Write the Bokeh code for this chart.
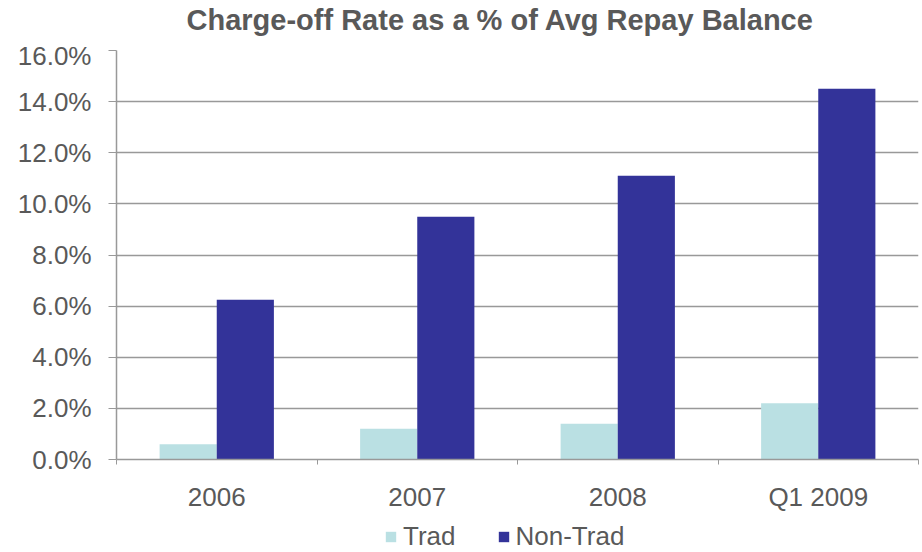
from bokeh.plotting import figure
from bokeh.layouts import column
from bokeh.models import FixedTicker, Legend, LegendItem, ColumnDataSource, Range1d, Label
from bokeh.embed import file_html
from bokeh.resources import INLINE

title_text = "Charge-off Rate as a % of Avg Repay Balance"
categories = ["2006", "2007", "2008", "Q1 2009"]
trad = [0.6, 1.2, 1.4, 2.2]
non_trad = [6.25, 9.5, 11.1, 14.5]
y_ticks = [0, 2, 4, 6, 8, 10, 12, 14, 16]
series_names = ["Trad", "Non-Trad"]
series_colors = ["#BAE0E3", "#333399"]

idx = list(range(len(categories)))
centers = [i + 0.5 for i in idx]
bw = 0.285
src = ColumnDataSource(dict(
    xt=[c - bw / 2 for c in centers],
    xn=[c + bw / 2 for c in centers],
    trad=trad, non_trad=non_trad))

FONT = "Liberation Sans"
GREY = "#595959"
W = 920

# title strip
tt = figure(width=W, height=40, output_backend="svg", toolbar_location=None,
            x_range=Range1d(0, 1), y_range=Range1d(0, 1),
            min_border=0, outline_line_color=None)
tt.axis.visible = False
tt.grid.visible = False
tt.add_layout(Label(x=70, y=21, x_units="screen", y_units="screen", text=title_text,
                    text_font=FONT, text_font_size="29px", text_font_style="bold",
                    text_color=GREY, text_baseline="alphabetic", text_align="left"))

p = figure(frame_width=802, frame_height=409, output_backend="svg", toolbar_location=None,
           x_range=Range1d(0, len(categories)), y_range=Range1d(0, 16),
           min_border_left=116, min_border_right=2, min_border_top=10, min_border_bottom=56)
p.outline_line_color = None

r1 = p.vbar(x="xt", top="trad", width=bw, source=src, fill_color=series_colors[0], line_color=None)
r2 = p.vbar(x="xn", top="non_trad", width=bw, source=src, fill_color=series_colors[1], line_color=None)

p.yaxis.ticker = FixedTicker(ticks=y_ticks)
p.yaxis.major_label_overrides = {t: f"{t:.1f}%" for t in y_ticks}
p.yaxis.major_label_text_font = FONT
p.yaxis.major_label_text_font_size = "26px"
p.yaxis.major_label_text_color = GREY
p.yaxis.axis_line_color = "#999999"
p.yaxis.axis_line_width = 1.5
p.yaxis.major_tick_line_color = "#999999"
p.yaxis.major_tick_in = 0
p.yaxis.major_tick_out = 8
p.yaxis.minor_tick_line_color = None
p.yaxis.major_label_standoff = 17

p.xaxis.ticker = FixedTicker(ticks=centers, minor_ticks=[float(i) for i in range(len(categories) + 1)])
p.xaxis.major_label_overrides = {c: lab for c, lab in zip(centers, categories)}
p.xaxis.major_label_text_font = FONT
p.xaxis.major_label_text_font_size = "26px"
p.xaxis.major_label_text_color = GREY
p.xaxis.axis_line_color = "#999999"
p.xaxis.axis_line_width = 1.5
p.xaxis.major_tick_line_color = None
p.xaxis.minor_tick_line_color = "#999999"
p.xaxis.minor_tick_in = 0
p.xaxis.minor_tick_out = 5
p.xaxis.major_label_standoff = 16

p.xgrid.grid_line_color = None
p.ygrid.ticker = FixedTicker(ticks=y_ticks)
p.ygrid.grid_line_color = "#999999"
p.ygrid.grid_line_width = 1.5

# legend strip below the chart (its own copies of the bar renderers lie outside its view)
lg = figure(width=W, height=37, output_backend="svg", toolbar_location=None,
            x_range=Range1d(0, len(categories)), y_range=Range1d(100, 101),
            min_border=0, outline_line_color=None)
lg.axis.visible = False
lg.grid.visible = False
l1 = lg.vbar(x="xt", top="trad", width=bw, source=src, fill_color=series_colors[0], line_color=None)
l2 = lg.vbar(x="xn", top="non_trad", width=bw, source=src, fill_color=series_colors[1], line_color=None)
legend = Legend(items=[LegendItem(label=series_names[0], renderers=[l1]),
                       LegendItem(label=series_names[1], renderers=[l2])],
                orientation="horizontal", location=(268, 0),
                label_text_font=FONT, label_text_font_size="26px", label_text_color=GREY,
                glyph_width=13, glyph_height=13, spacing=41, label_standoff=6,
                border_line_color=None, background_fill_alpha=0, padding=0, margin=0)
lg.add_layout(legend, "center")

layout = column(tt, p, lg, spacing=0)
open("out.html", "w").write(file_html(layout, INLINE))
